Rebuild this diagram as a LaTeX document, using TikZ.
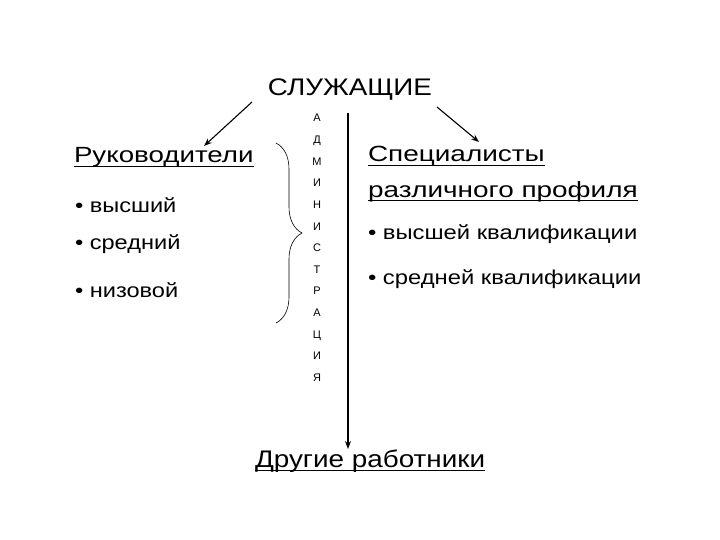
\documentclass[tikz,border=0pt]{standalone}
\usepackage{fontspec}
\setmainfont{Liberation Sans}
\usetikzlibrary{arrows.meta,decorations.pathreplacing}
\newcommand\myul[1]{\setbox0\hbox{#1}\rlap{\vrule height -3pt depth 4.4pt width \wd0}\box0}
\newcommand\fs[2]{\fontsize{#1}{#1}\selectfont #2}
\begin{document}
\begin{tikzpicture}[x=1pt,y=-1pt,
  every node/.style={inner sep=0pt,outer sep=0pt},
  txt/.style={anchor=base west},
  conn/.style={line width=1.1pt,-{Stealth[length=8pt,width=6pt]}}]
\useasboundingbox[fill=white] (0,0) rectangle (720,540);
\node[anchor=base] (sl) at (350,96) {\scalebox{1.16}[1]{\fs{24}{СЛУЖАЩИЕ}}};
\node[txt] (ruk) at (74,163) {\scalebox{1.26}[1]{\fs{22}{\myul{Руководители}}}};
\node[txt] (b1) at (75,213) {\scalebox{1.18}[1]{\fs{20}{• высший}}};
\node[txt] (b2) at (75,249) {\scalebox{1.18}[1]{\fs{20}{• средний}}};
\node[txt] (b3) at (75,297) {\scalebox{1.18}[1]{\fs{20}{• низовой}}};
\node[txt] (sp1) at (368,162) {\scalebox{1.27}[1]{\fs{22}{\myul{Специалисты}}}};
\node[txt] (sp2) at (368,197) {\scalebox{1.27}[1]{\fs{22}{\myul{различного профиля}}}};
\node[txt] (c1) at (368,240) {\scalebox{1.19}[1]{\fs{20}{• высшей квалификации}}};
\node[txt] (c2) at (368,284) {\scalebox{1.19}[1]{\fs{20}{• средней квалификации}}};
\node[txt] (dr) at (255,467) {\scalebox{1.16}[1]{\fs{24}{\myul{Другие работники}}}};
\foreach \l [count=\i] in {А,Д,М,И,Н,И,С,Т,Р,А,Ц,И,Я}
  \node[anchor=base] (v\i) at (317,122+21.6*\i-21.6) {\fs{11}{\l}};
\coordinate (ls) at (252,102);
\coordinate (le) at (204,146);
\coordinate (rs) at (437,107);
\coordinate (re) at (479,142);
\coordinate (vs) at (348,113);
\coordinate (ve) at (348,449);
\draw[conn] (ls) -- (le);
\draw[conn] (rs) -- (re);
\draw[conn] (vs) -- (ve);
\coordinate (bt) at (276,143);
\coordinate (bb) at (276,323);
\draw[decorate,decoration={brace,amplitude=26pt},line width=0.6pt] (bt) -- (bb);
\end{tikzpicture}
\end{document}
